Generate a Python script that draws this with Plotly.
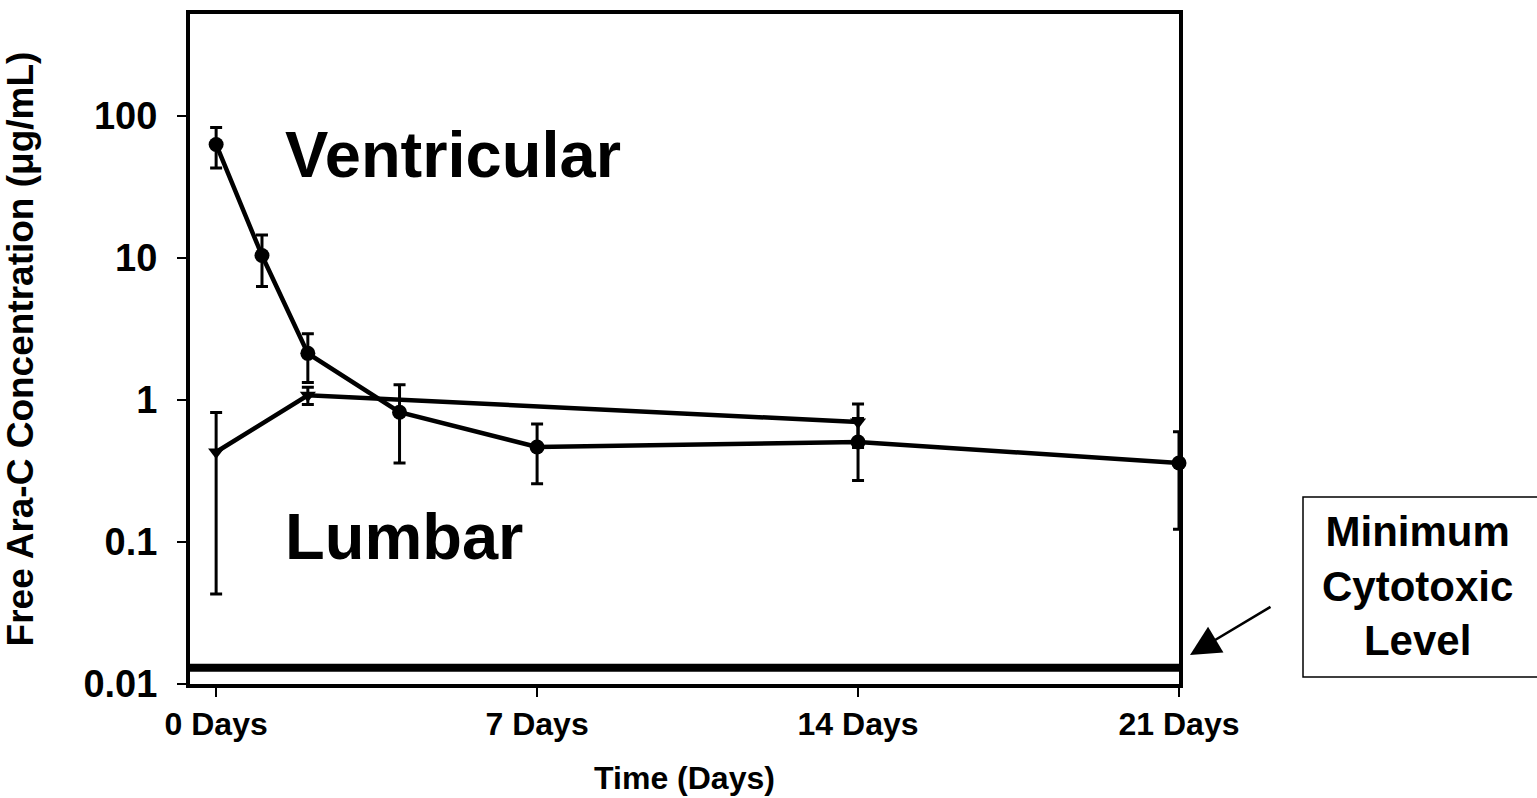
import plotly.graph_objects as go

# ---- data ----
vent_days = [0, 1, 2, 4, 7, 14, 21]
vent_conc = [63, 10.4, 2.13, 0.82, 0.467, 0.506, 0.36]
vent_err = [20, 4.1, 0.8, 0.46, 0.21, 0.235, 0.237]

lumb_days = [0, 2, 14]
lumb_conc = [0.43, 1.08, 0.70]
lumb_err = [0.387, 0.15, 0.237]

min_cytotoxic_days = [-0.57, 21]
min_cytotoxic_level = [0.013, 0.013]

x_tick_vals = [0, 7, 14, 21]
x_tick_text = ["0 Days", "7 Days", "14 Days", "21 Days"]
y_tick_vals = [0.01, 0.1, 1, 10, 100]
y_tick_text = ["0.01", "0.1", "1", "10", "100"]

FONT = "Arial, Liberation Sans, sans-serif"

fig = go.Figure()

fig.add_trace(go.Scatter(
    x=min_cytotoxic_days, y=min_cytotoxic_level, mode="lines",
    line=dict(color="black", width=8), showlegend=False, hoverinfo="skip"))

fig.add_trace(go.Scatter(
    x=vent_days, y=vent_conc, mode="lines+markers", name="Ventricular",
    line=dict(color="black", width=4.5),
    marker=dict(symbol="circle", size=15, color="black"),
    error_y=dict(type="data", array=vent_err, visible=True,
                 color="black", thickness=3, width=6),
    showlegend=False, cliponaxis=False))

fig.add_trace(go.Scatter(
    x=lumb_days, y=lumb_conc, mode="lines+markers", name="Lumbar",
    line=dict(color="black", width=4.5),
    marker=dict(symbol="triangle-down", size=14, color="black"),
    error_y=dict(type="data", array=lumb_err, visible=True,
                 color="black", thickness=3, width=6),
    showlegend=False, cliponaxis=False))

L, R, T, B = 190, 1179, 14, 684
W, H = 1537, 798

def px(xp):
    return (xp - L) / (R - L)

def py(yp):
    return (B - yp) / (B - T)

fig.update_layout(
    width=W, height=H,
    margin=dict(l=L, r=W - R, t=T, b=H - B, autoexpand=False),
    paper_bgcolor="white", plot_bgcolor="white",
    font=dict(family=FONT, color="black"),
    xaxis=dict(
        range=[-0.57, 21], tickmode="array", tickvals=x_tick_vals,
        ticktext=x_tick_text, ticks="outside", ticklen=9, tickwidth=2,
        tickcolor="black", showline=True, linewidth=4, linecolor="black",
        mirror=True, showgrid=False, zeroline=False,
        tickfont=dict(size=32, family=FONT, weight="bold"),
        title=dict(text="Time (Days)", standoff=26,
                   font=dict(size=32, family=FONT, weight="bold")),
    ),
    yaxis=dict(
        type="log", range=[-2, 2.718], tickmode="array",
        tickvals=y_tick_vals, ticktext=y_tick_text, ticks="outside",
        ticklen=9, tickwidth=2, tickcolor="black", showline=True,
        linewidth=4, linecolor="black", mirror=True, showgrid=False,
        zeroline=False, ticklabelstandoff=12,
        tickfont=dict(size=38, family=FONT, weight="bold"),
        title=dict(text="Free Ara-C Concentration (\u03bcg/mL)", standoff=46,
                   font=dict(size=37, family=FONT, weight="bold")),
    ),
)

fig.add_annotation(x=px(283), y=py(154), xref="paper", yref="paper",
                   text="Ventricular", showarrow=False, xanchor="left",
                   yanchor="middle",
                   font=dict(size=65, family=FONT, weight="bold"))
fig.add_annotation(x=px(283), y=py(536), xref="paper", yref="paper",
                   text="Lumbar", showarrow=False, xanchor="left",
                   yanchor="middle",
                   font=dict(size=65, family=FONT, weight="bold"))

# box around label
fig.add_shape(type="rect", xref="paper", yref="paper",
              x0=px(1303), x1=px(1560), y0=py(677), y1=py(497),
              line=dict(color="black", width=1.5), fillcolor="white")
fig.add_annotation(x=px(1417), y=py(586), xref="paper", yref="paper",
                   text="Minimum<br>Cytotoxic<br>Level", showarrow=False,
                   xanchor="center", yanchor="middle", align="center",
                   font=dict(size=42, family=FONT, weight="bold"))

# arrow
fig.add_annotation(x=px(1190), y=py(655), xref="paper", yref="paper",
                   ax=1272 - 1190, ay=606 - 655, axref="pixel", ayref="pixel",
                   text="", showarrow=True, arrowhead=2, arrowsize=2.4,
                   arrowwidth=2.5, arrowcolor="black")

fig.write_html("out.html", config={"displayModeBar": False},
               post_script="document.body.style.margin='0';")
